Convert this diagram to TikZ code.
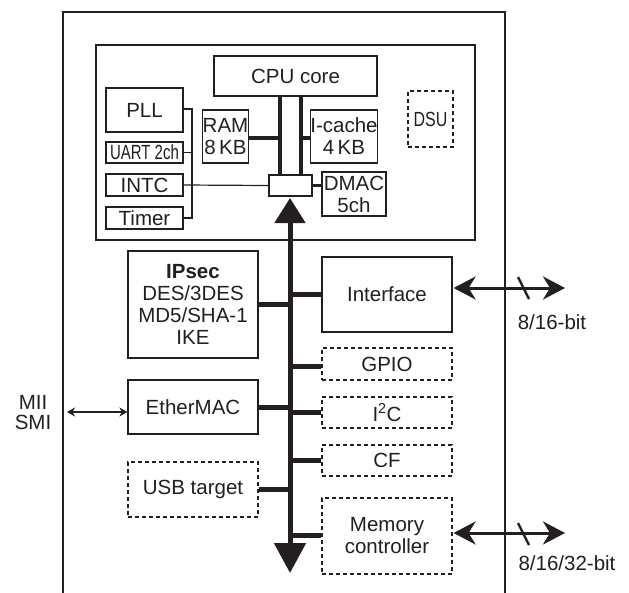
\documentclass[tikz,border=0pt]{standalone}
\usepackage{fontspec}
\setmainfont{Liberation Sans}
\usepackage{graphicx}
\usetikzlibrary{arrows.meta,calc}
\definecolor{ink}{HTML}{231F20}
\begin{document}
\begin{tikzpicture}[x=1pt,y=-1pt,
  font=\fontsize{20.5}{22}\selectfont,
  wh/.style 2 args={minimum width=#1pt, minimum height=#2pt},
  box/.style={draw=ink, line width=1.2pt, inner sep=0pt, align=center, text=ink},
  dbox/.style={box, dash pattern=on 4pt off 3pt},
  stub/.style={draw=ink, line width=5pt},
  cpubus/.style={draw=ink, line width=3.3pt},
  thin/.style={draw=ink, line width=1.2pt},
  sidearrow/.style={draw=ink, line width=3pt,
     {Stealth[length=22pt,width=23pt,inset=7pt]}-{Stealth[length=22pt,width=23pt,inset=7pt]}},
  lbl/.style={text=ink, inner sep=0pt, align=center}]
\useasboundingbox (0,0) rectangle (629,592);
\fill[white] (0,0) rectangle (629,592);
% outer chip outline (open at the bottom)
\draw[draw=ink, line width=2.2pt] (63,600) -- (63,12) -- (505,12) -- (505,600);
% CPU cluster
\node[box, wh={379}{195}] (cluster) at (285.5,142.5) {};
\node[box, wh={163}{40}] (cpu) at (295.5,76) {CPU core};
\node[box, wh={77}{44}] (pll) at (144.5,110) {PLL};
\node[box, wh={77}{21}] (uart) at (144.5,152.5) {\scalebox{0.73}[1]{UART 2ch}};
\node[box, wh={77}{22}] (intc) at (144.5,185) {INTC};
\node[box, wh={77}{22}] (timer) at (144.5,218) {Timer};
\node[box, wh={45}{53}] (ram) at (225.5,136.5) {RAM\\8\,KB};
\node[box, wh={66}{53}] (icache) at (344,136.5) {I-cache\\4\,KB};
\node[dbox, wh={45}{56}] (dsu) at (430.5,119) {\scalebox{0.78}[1]{DSU}};
\node[box, wh={43}{21}] (bridge) at (290.5,185.5) {};
\node[box, wh={64}{44}] (dmac) at (354,194) {DMAC\\5ch};
% peripherals
\node[box, wh={130}{107}] (ipsec) at (193,304.5) {\textbf{IPsec}\\DES/3DES\\MD5/SHA-1\\IKE};
\node[box, wh={130}{75}] (iface) at (387,294.5) {Interface};
\node[dbox, wh={130}{32}] (gpio) at (387,364) {GPIO};
\node[box, wh={130}{54}] (ether) at (193,407) {EtherMAC};
\node[dbox, wh={130}{31}] (i2c) at (387,412.5) {I\textsuperscript{2}C};
\node[dbox, wh={130}{31}] (cf) at (387,460.5) {CF};
\node[dbox, wh={130}{55}] (usb) at (193,489.5) {USB target};
\node[dbox, wh={130}{76}] (mem) at (387,536) {Memory\\controller};
% coordinates
\coordinate (lb) at (280,0);
\coordinate (rb) at (301,0);
\coordinate (sv) at (192,0);
\coordinate (bustop) at (290,198);
\coordinate (busbot) at (290,573);
\coordinate (ifout) at (565,288);
\coordinate (memout) at (565,533);
\coordinate (miiend) at (67,412);
% CPU internal connections
\draw[cpubus] (cpu.south -| lb) -- (bridge.north -| lb);
\draw[cpubus] (cpu.south -| rb) -- (bridge.north -| rb);
\draw[cpubus] ([yshift=-1.5pt]ram.east) -- ([yshift=-1.5pt]ram.east -| lb);
\draw[cpubus] ([yshift=-1.5pt]icache.west) -- ([yshift=-1.5pt]icache.west -| rb);
\draw[cpubus] (bridge.east) -- (bridge.east -| dmac.west);
\draw[thin] (intc.east) -- (bridge.west);
\draw[thin] ([yshift=1pt]pll.east) -- ([yshift=1pt]pll.east -| sv) -- (timer.east -| sv) -- (timer.east);
\draw[thin] (uart.east) -- (uart.east -| sv);
% main bus
\draw[draw=ink, line width=5pt, {Triangle[length=25pt,width=30pt]}-{Triangle[length=30pt,width=31pt]}] (bustop) -- (busbot);
\draw[stub] (ipsec.east) -- (ipsec.east -| bustop);
\draw[stub] (iface.west) -- (iface.west -| bustop);
\draw[stub] ([yshift=-2pt]gpio.west) -- ([yshift=-2pt]gpio.west -| bustop);
\draw[stub] (ether.east) -- (ether.east -| bustop);
\draw[stub] (i2c.west) -- (i2c.west -| bustop);
\draw[stub] (cf.west) -- (cf.west -| bustop);
\draw[stub] (usb.east) -- (usb.east -| bustop);
\draw[stub] ([yshift=1pt]mem.west) -- ([yshift=1pt]mem.west -| bustop);
% external arrows
\draw[sidearrow] ([xshift=1pt]iface.east |- ifout) -- (ifout);
\draw[draw=ink, line width=2.4pt] (518,277) -- (529,299);
\node[lbl] (w16) at (552,322) {8/16-bit};
\draw[sidearrow] ([xshift=1pt]mem.east |- memout) -- (memout);
\draw[draw=ink, line width=2.4pt] (518,523) -- (529,545);
\node[lbl] (w32) at (567,563) {8/16/32-bit};
\draw[draw=ink, line width=1.2pt, {Stealth[length=8pt,width=9pt,inset=2.5pt]}-{Stealth[length=8pt,width=9pt,inset=2.5pt]}] (miiend) -- (ether.west |- miiend);
\node[lbl, font=\fontsize{20.5}{20}\selectfont] (mii) at (33,413) {MII\\SMI};
\end{tikzpicture}
\end{document}
